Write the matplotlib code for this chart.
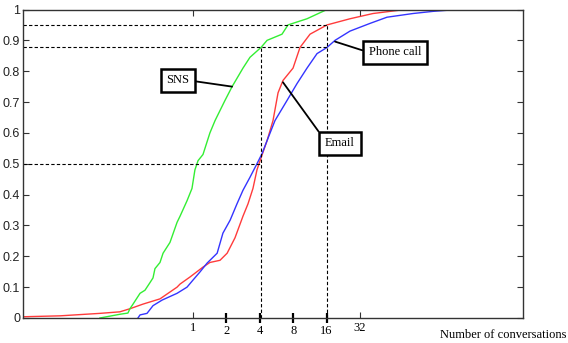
import matplotlib
matplotlib.use("Agg")
import matplotlib.pyplot as plt
from matplotlib.ticker import FixedLocator, NullFormatter, FixedFormatter

# CDF curves (x = number of conversations, log2 axis)
sns_x = [0.145, 0.219, 0.259, 0.270, 0.288, 0.333, 0.369, 0.410, 0.436, 0.454, 0.504,
         0.537, 0.620, 0.718, 0.764, 0.883, 0.979, 1.04, 1.11, 1.23, 1.42, 1.58, 1.94,
         2.25, 2.82, 3.26, 4.10, 4.65, 6.34, 7.18, 10.65, 16.13]
sns_y = [0.0, 0.012, 0.016, 0.03, 0.045, 0.08, 0.09, 0.115, 0.13, 0.16, 0.18,
         0.21, 0.245, 0.31, 0.33, 0.38, 0.42, 0.48, 0.51, 0.53, 0.60, 0.64, 0.705,
         0.75, 0.81, 0.845, 0.877, 0.90, 0.92, 0.95, 0.97, 1.0]

email_x = [0.0294, 0.0633, 0.145, 0.219, 0.270, 0.354, 0.504, 0.718, 0.764, 0.940,
           1.23, 1.42, 1.75, 2.03, 2.39, 2.82, 3.13, 3.47, 3.77, 4.02, 4.65, 5.26,
           5.84, 6.47, 7.97, 9.21, 11.34, 16.13, 26.0, 41.9, 81.4]
email_y = [0.004, 0.007, 0.015, 0.02, 0.03, 0.045, 0.062, 0.1, 0.11, 0.133,
           0.165, 0.18, 0.187, 0.21, 0.26, 0.33, 0.37, 0.42, 0.48, 0.51, 0.575, 0.64,
           0.73, 0.77, 0.81, 0.877, 0.92, 0.95, 0.97, 0.987, 1.0]

phone_x = [0.319, 0.333, 0.385, 0.436, 0.526, 0.718, 0.883, 1.0, 1.16, 1.34, 1.65,
           1.86, 2.16, 2.49, 2.82, 3.26, 3.77, 4.19, 4.65, 5.48, 7.03, 8.66, 10.65,
           13.11, 16.13, 19.05, 26.0, 39.4, 56.0, 96.1, 145.6, 239.6, 362.8]
phone_y = [0.0, 0.01, 0.015, 0.04, 0.058, 0.08, 0.1, 0.123, 0.15, 0.178, 0.21,
           0.275, 0.317, 0.37, 0.414, 0.456, 0.5, 0.533, 0.575, 0.64, 0.705, 0.76, 0.81,
           0.857, 0.877, 0.9, 0.93, 0.955, 0.975, 0.987, 0.994, 1.0, 1.0]

major_ticks = [1, 32]
minor_ticks = [2, 4, 8, 16]
y_ticks = [0, 0.1, 0.2, 0.3, 0.4, 0.5, 0.6, 0.7, 0.8, 0.9, 1]
y_labels = ["0", "0.1", "0.2", "0.3", "0.4", "0.5", "0.6", "0.7", "0.8", "0.9", "1"]

serif = ["Liberation Serif", "DejaVu Serif"]
sans = ["Liberation Sans", "DejaVu Sans"]

fig = plt.figure(figsize=(5.68, 3.43), dpi=100)
ax = fig.add_axes([0.0405, 0.0729, 0.8803, 0.8994])

ax.plot(email_x, email_y, color="#ff3b3b", lw=1.0)
ax.plot(phone_x, phone_y, color="#3434ff", lw=1.0)
ax.plot(sns_x, sns_y, color="#33ee33", lw=1.0)

ax.set_xscale("log", base=2)
ax.set_xlim(2 ** -5.09, 2 ** 9.88)
ax.set_ylim(0, 1)

# dashed guide lines
xmin = ax.get_xlim()[0]
dash = dict(color="black", lw=0.8, ls=(0, (3, 2)))
ax.plot([xmin, 16.13], [0.95, 0.95], **dash)
ax.plot([xmin, 16.13], [0.877, 0.877], **dash)
ax.plot([xmin, 4.10], [0.5, 0.5], **dash)
ax.plot([4.10, 4.10], [0, 0.877], **dash)
ax.plot([16.13, 16.13], [0, 0.95], **dash)

# ticks
ax.xaxis.set_major_locator(FixedLocator(major_ticks))
ax.xaxis.set_major_formatter(FixedFormatter([str(t) for t in major_ticks]))
ax.xaxis.set_minor_locator(FixedLocator(minor_ticks))
ax.xaxis.set_minor_formatter(FixedFormatter([str(t) for t in minor_ticks]))
ax.tick_params(axis="x", which="major", direction="in", length=4, width=0.8,
               top=True, pad=3, colors="#333333", labelcolor="black")
ax.tick_params(axis="x", which="minor", direction="inout", length=7, width=1.6,
               top=False, pad=1.5, colors="black")
for lab in ax.get_xticklabels(which="both"):
    lab.set_fontfamily(serif)
    lab.set_fontsize(9)

ax.set_yticks(y_ticks)
ax.set_yticklabels(y_labels)
ax.yaxis.set_minor_locator(FixedLocator([]))
ax.tick_params(axis="y", direction="in", length=4, width=0.8, right=True,
               colors="#333333", labelcolor="#222222", pad=2)
for lab in ax.get_yticklabels():
    lab.set_fontfamily(sans)
    lab.set_fontsize(9)

for s in ax.spines.values():
    s.set_color("#333333")
    s.set_linewidth(1.0)

# annotation boxes
box = dict(boxstyle="square,pad=0.45", fc="white", ec="black", lw=1.8)
arrow = dict(arrowstyle="-", color="black", lw=1.3, shrinkA=0, shrinkB=0)
ax.annotate("SNS", xy=(2.25, 0.75), xytext=(0.73, 0.77), ha="center", va="center",
            fontsize=9, family=serif, bbox=box,
            arrowprops=dict(arrow, relpos=(1, 0.5)))
ax.annotate("Phone call", xy=(19.05, 0.896), xytext=(66.2, 0.861), ha="center", va="center",
            fontsize=9, family=serif, bbox=box,
            arrowprops=dict(arrow, relpos=(0, 0.5)))
ax.annotate("Email", xy=(6.47, 0.764), xytext=(21.1, 0.566), ha="center", va="center",
            fontsize=9, family=serif, bbox=box,
            arrowprops=dict(arrow, relpos=(0, 0.75)))

fig.text(0.997, 1 - 335 / 343, "Number of conversations", ha="right", va="center",
         fontsize=9, family=serif)

fig.savefig("out.png", dpi=100)
